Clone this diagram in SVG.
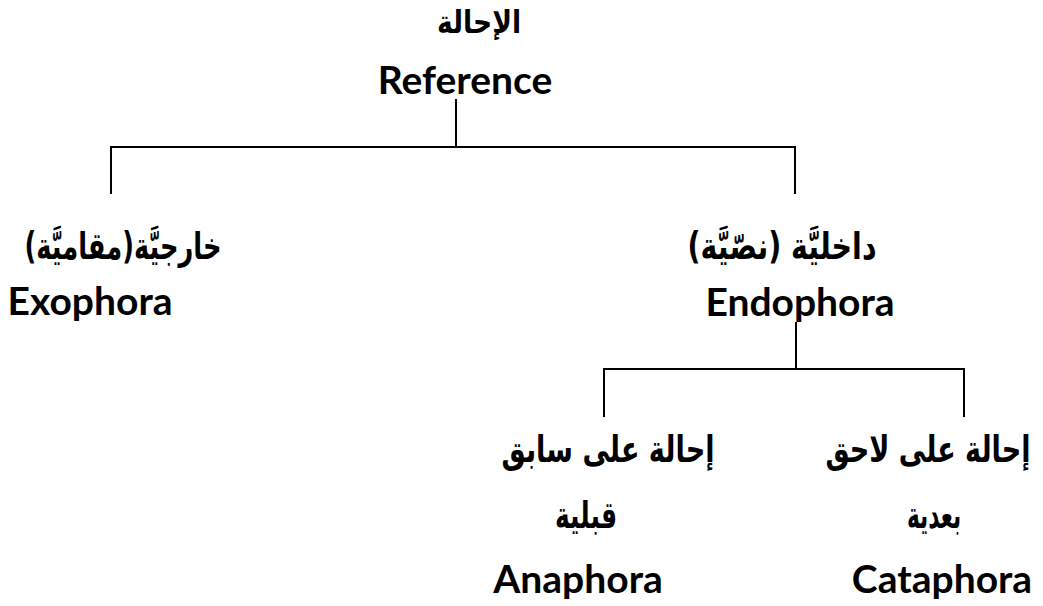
<svg xmlns="http://www.w3.org/2000/svg" width="1043" height="606" viewBox="0 0 1043 606">
<style>
.ar{font-family:"DejaVu Sans",sans-serif;font-weight:bold;font-size:37px;fill:#000;text-anchor:middle}
.top{font-size:32px}
.en{font-family:Lato,"Open Sans",sans-serif;font-weight:bold;font-size:39px;fill:#000;text-anchor:middle}
.c{stroke:#000;stroke-width:2;fill:none}
</style>
<rect width="1043" height="606" fill="#fff"/>
<g id="connectors">
<path class="c" d="M456 99V147M111 147H795M111 146V194M795 146V194"/>
<path class="c" d="M796 322V369M603 369H965M604 368V417M964 368V417"/>
</g>
<g id="reference">
<text class="ar top" x="479" y="33" direction="rtl" textLength="84" lengthAdjust="spacingAndGlyphs">الإحالة</text>
<text class="en" x="465" y="94">Reference</text>
</g>
<g id="exophora">
<text class="ar" x="123" y="259" direction="rtl" textLength="197" lengthAdjust="spacingAndGlyphs">خارجيَّة(مقاميَّة)</text>
<text class="en" x="90" y="315">Exophora</text>
</g>
<g id="endophora">
<text class="ar" x="782" y="259" direction="rtl" textLength="189" lengthAdjust="spacingAndGlyphs">داخليَّة (نصّيَّة)</text>
<text class="en" x="800" y="316">Endophora</text>
</g>
<g id="anaphora">
<text class="ar" x="608" y="462" direction="rtl" textLength="213" lengthAdjust="spacingAndGlyphs">إحالة على سابق</text>
<text class="ar" x="586" y="528" direction="rtl" textLength="62" lengthAdjust="spacingAndGlyphs">قبلية</text>
<text class="en" x="578" y="593">Anaphora</text>
</g>
<g id="cataphora">
<text class="ar" x="928" y="462" direction="rtl" textLength="205" lengthAdjust="spacingAndGlyphs">إحالة على لاحق</text>
<text class="ar" x="934" y="528" direction="rtl" textLength="54" lengthAdjust="spacingAndGlyphs">بعدية</text>
<text class="en" x="942" y="593">Cataphora</text>
</g>
</svg>
